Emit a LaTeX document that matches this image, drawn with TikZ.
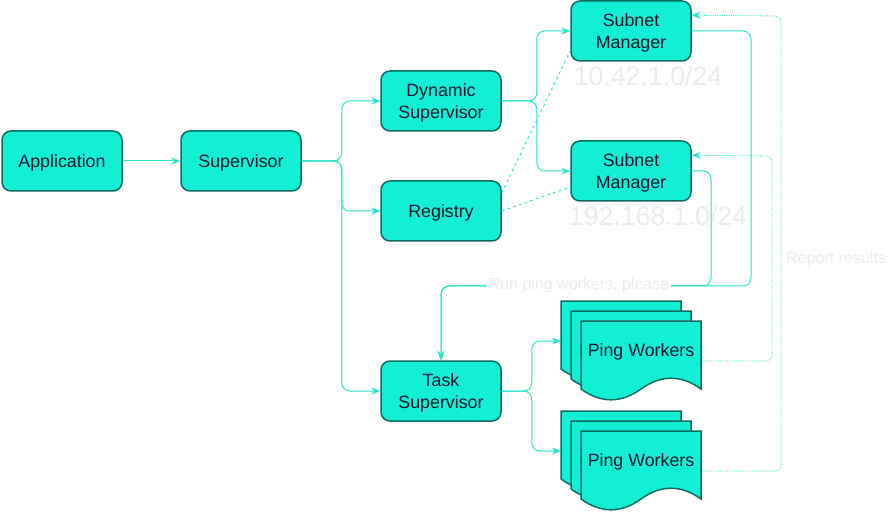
\documentclass[tikz,border=0pt]{standalone}
\usepackage{fontspec}
\setmainfont{Liberation Sans}
\usetikzlibrary{arrows.meta,calc}

\definecolor{boxfill}{RGB}{18,239,212}
\definecolor{boxline}{RGB}{14,108,94}
\definecolor{wire}{RGB}{40,228,200}
\definecolor{ink}{RGB}{14,24,44}
\definecolor{faint}{RGB}{236,236,236}

\tikzset{
	box/.style={draw=boxline, fill=boxfill, line width=1.5pt, rounded corners=9pt,
		minimum width=120pt, minimum height=60pt, align=center, text=ink, text depth=0pt,
		font=\fontsize{17.8}{22}\selectfont},
	worker/.style={text=ink, text depth=0pt, font=\fontsize{17.8}{22}\selectfont},
	link/.style={draw=wire, line width=1pt, rounded corners=8pt, -{Stealth[length=9pt,width=7pt]}},
	hint/.style={draw=wire, line width=0.9pt, dash pattern=on 3pt off 3pt},
	report/.style={draw=wire, line width=0.8pt, densely dotted, rounded corners=6pt, -{Stealth[length=9pt,width=7pt]}},
	faintlabel/.style={text=faint, font=\fontsize{16}{19}\selectfont},
	subnetlabel/.style={text=faint, font=\fontsize{26.7}{30}\selectfont}
}

% one page of the stacked document shape, top left corner at (#1,#2)
\newcommand{\workerpage}[2]{
	\draw [boxline, fill=boxfill, line width=1.5pt]
		(#1,#2) -- ++(120,0) -- ++(0,68)
		.. controls ($(#1,#2)+(100,53.6)$) and ($(#1,#2)+(80,53.6)$) .. ($(#1,#2)+(60,68)$)
		.. controls ($(#1,#2)+(40,82.4)$) and ($(#1,#2)+(20,82.4)$) .. ($(#1,#2)+(0,68)$)
		-- cycle;
}

\begin{document}
\begin{tikzpicture}[x=1pt,y=-1pt]
	\useasboundingbox (0,0) rectangle (892,513);

	\node [box] (app) at (62,161) {Application};
	\node [box] (sup) at (241,161) {Supervisor};
	\node [box] (dyn) at (441,101) {Dynamic\\Supervisor};
	\node [box] (reg) at (441,211) {Registry};
	\node [box] (task) at (441,391) {Task\\Supervisor};
	\node [box] (sm1) at (631,31) {Subnet\\Manager};
	\node [box] (sm2) at (631,171) {Subnet\\Manager};

	\node [subnetlabel] (net1) at (648,76) {10.42.1.0/24};
	\node [subnetlabel] (net2) at (658,216) {192.168.1.0/24};

	% ping worker stacks
	\workerpage{561}{301}
	\workerpage{571}{311}
	\workerpage{581}{321}
	\node [worker] (pw1) at (641,350) {Ping Workers};
	\coordinate (pw1in) at (561,341);
	\coordinate (pw1out) at (702,361);

	\workerpage{561}{411}
	\workerpage{571}{421}
	\workerpage{581}{431}
	\node [worker] (pw2) at (641,460) {Ping Workers};
	\coordinate (pw2in) at (561,451);
	\coordinate (pw2out) at (702,471);

	% supervision tree
	\draw [link] (app) -- (sup);
	\draw [link] (sup.east) -- ++(40,0) |- (dyn.west);
	\draw [link] (sup.east) -- ++(40,0) |- (reg.west);
	\draw [link] (sup.east) -- ++(40,0) |- (task.west);
	\draw [link] (dyn.east) -- ++(35,0) |- (sm1.west);
	\draw [link] (dyn.east) -- ++(35,0) |- (sm2.west);
	\draw [link] (task.east) -- ++(30,0) |- (pw1in);
	\draw [link] (task.east) -- ++(30,0) |- (pw2in);

	\draw [hint] ([yshift=18pt]reg.east) -- ([yshift=11pt]sm1.south west);
	\draw [hint] (reg.east) -- ([yshift=-16pt]sm2.west);

	% requests to the task supervisor
	\draw [link] (sm1.east) -| (751,286) -| (task.north);
	\draw [link] (sm2.east) -| (711,286) -| (task.north);
	\node [faintlabel, fill=white, inner sep=2pt] (run) at (579,285) {Run ping workers, please};

	% results back to the managers
	\draw [report] (pw1out) -| (772,156) -- ([yshift=-15pt]sm2.north east);
	\draw [report] (pw2out) -| (781,16) -- ([yshift=-15pt]sm1.north east);
	\node [faintlabel] (res) at (836,259) {Report results};
\end{tikzpicture}
\end{document}
